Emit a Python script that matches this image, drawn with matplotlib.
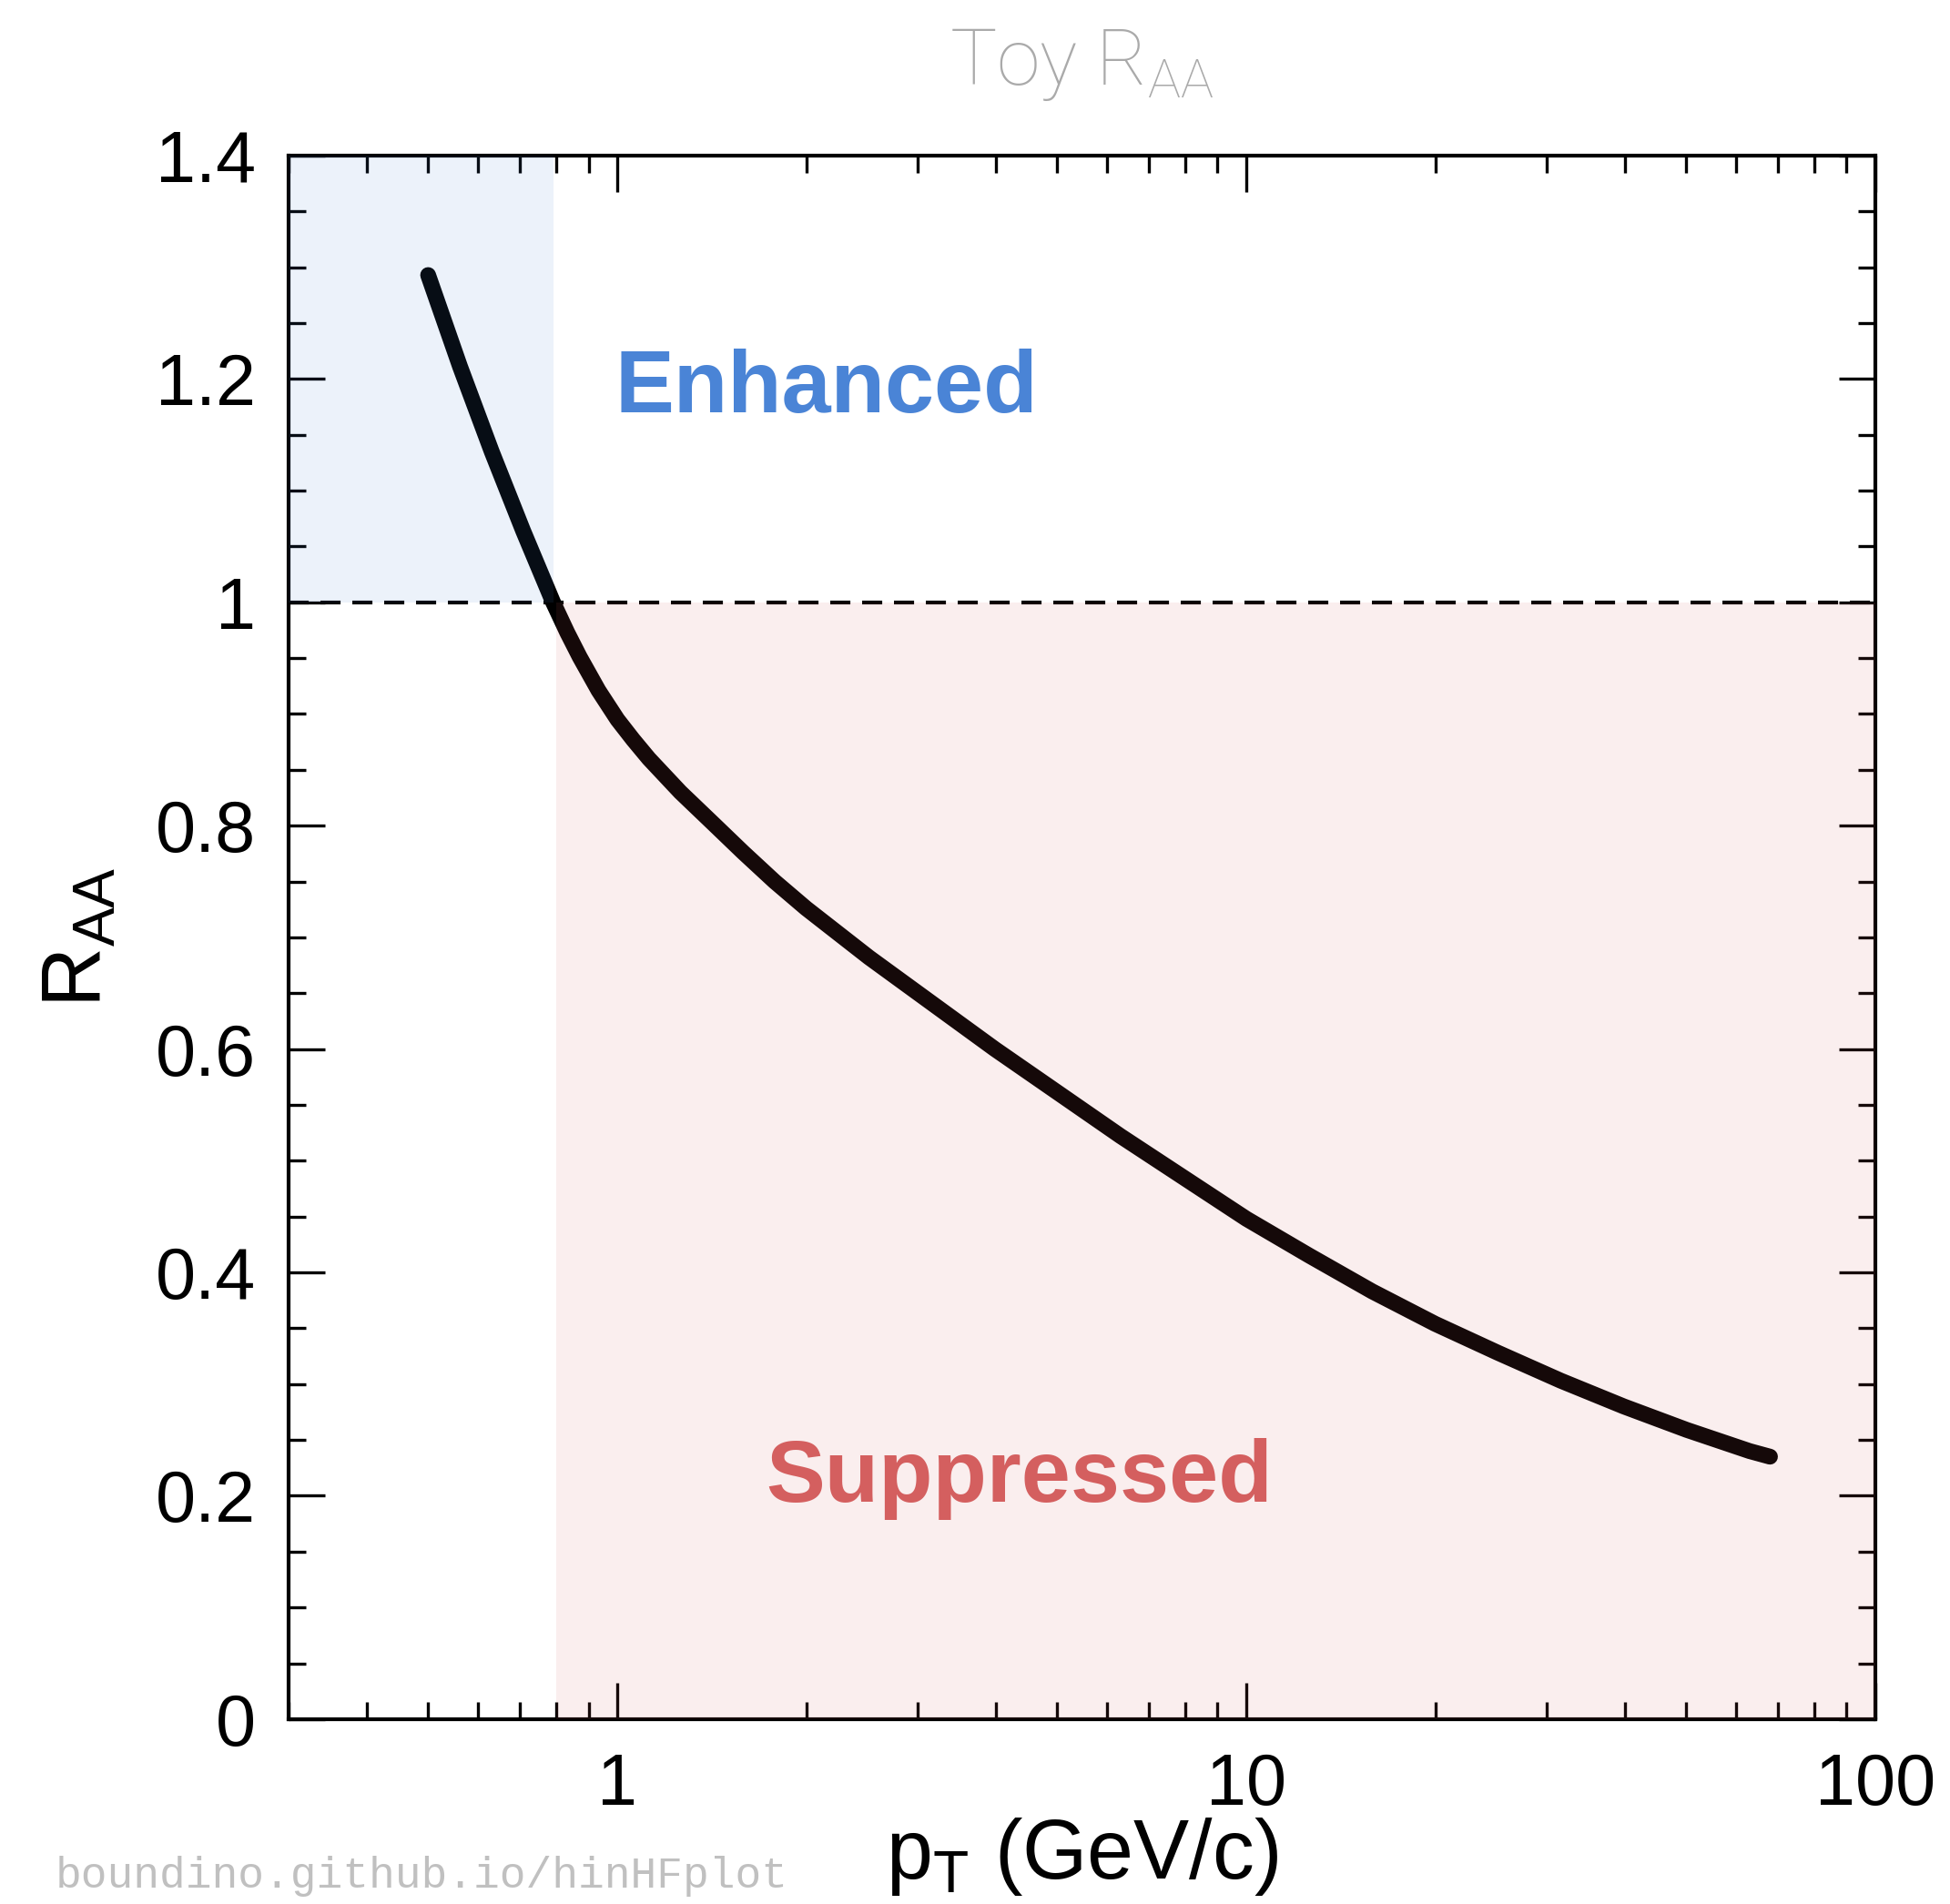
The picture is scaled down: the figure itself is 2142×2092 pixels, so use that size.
import numpy as np
import matplotlib.pyplot as plt
from matplotlib.ticker import FixedLocator, FixedFormatter, NullFormatter

# curve
pt = [0.5, 0.562, 0.631, 0.708, 0.79, 0.832, 0.871, 0.933, 1.0, 1.059,
      1.122, 1.259, 1.413, 1.585, 1.778, 1.995, 2.512, 3.162, 3.981, 5.012,
      6.31, 7.943, 10, 12.59, 15.85, 19.95, 25.12, 31.62, 39.81, 50.12,
      63.1, 68]
raa = [1.293, 1.211, 1.135, 1.064, 1.0, 0.973, 0.951, 0.921, 0.895, 0.877,
       0.860, 0.830, 0.803, 0.776, 0.750, 0.726, 0.682, 0.641, 0.600, 0.561,
       0.522, 0.485, 0.448, 0.415, 0.383, 0.354, 0.328, 0.303, 0.280, 0.259,
       0.240, 0.235]

yticks = [0, 0.2, 0.4, 0.6, 0.8, 1.0, 1.2, 1.4]
ytick_labels = ['0', '0.2', '0.4', '0.6', '0.8', '1', '1.2', '1.4']
xticks = [1, 10, 100]
xtick_labels = ['1', '10', '100']

enh_range = [0.3, 0.79]
sup_range = [0.8, 100]

blue = '#4a84d6'
red = '#d45f5f'
font = 'Liberation Sans'

fig = plt.figure(figsize=(21.42, 20.92), dpi=100)
ax = fig.add_axes([0.148, 0.0971, 0.8137, 0.8212])

ax.plot(pt, raa, color='black', lw=12.5, solid_capstyle='round', solid_joinstyle='round', zorder=3)
ax.axhline(1.0, color='black', lw=3, dashes=(5.3, 3.1), zorder=2)

# shaded regions drawn on top with low alpha
ax.fill_between(enh_range, 1.0, 1.4, color=blue, alpha=0.1, lw=0, zorder=5)
ax.fill_between(sup_range, 0.0, 1.0, color=red, alpha=0.1, lw=0, zorder=5)

ax.text(0.99, 1.17, 'Enhanced', color=blue, fontsize=70, fontweight='bold',
        family=font, ha='left', va='baseline', zorder=6)
ax.text(4.35, 0.195, 'Suppressed', color=red, fontsize=70, fontweight='bold',
        family=font, ha='center', va='baseline', zorder=6)

ax.set_xscale('log')
ax.set_xlim(0.3, 100)
ax.set_ylim(0, 1.4)

ax.xaxis.set_major_locator(FixedLocator(xticks))
ax.xaxis.set_major_formatter(FixedFormatter(xtick_labels))
ax.xaxis.set_minor_locator(FixedLocator([v * d for d in [0.1, 1, 10] for v in range(2, 10) if 0.3 <= v * d < 100]))
ax.xaxis.set_minor_formatter(NullFormatter())
ax.yaxis.set_major_locator(FixedLocator(yticks))
ax.yaxis.set_major_formatter(FixedFormatter(ytick_labels))
ax.yaxis.set_minor_locator(FixedLocator(np.arange(0, 1.41, 0.05)))

ax.tick_params(which='both', direction='in', top=True, right=True, width=2.4, color='black')
ax.tick_params(which='major', length=29, labelsize=57, pad=26)
ax.tick_params(which='minor', length=14)
for lab in ax.get_xticklabels() + ax.get_yticklabels():
    lab.set_family(font)
for s in ax.spines.values():
    s.set_linewidth(3)

ax.set_xlabel(r'p$_{\mathregular{T}}$ (GeV/c)', fontsize=66, family=font)
ax.set_ylabel(r'R$_{\mathregular{AA}}$', fontsize=66, family=font)
ax.xaxis.set_label_coords(0.5, -0.062)
ax.yaxis.set_label_coords(-0.107, 0.5)

fig.text(0.5547, 0.9555, r'Toy R$_{\mathregular{AA}}$', fontsize=62, color='#aaaaaa',
         family='Roboto', fontweight='light', ha='center', va='baseline')
fig.text(0.0285, 0.0086, 'boundino.github.io/hinHFplot', fontsize=34.5, color='#c0c0c0',
         family='Liberation Mono', ha='left', va='baseline')

fig.savefig('out.png', dpi=100)
